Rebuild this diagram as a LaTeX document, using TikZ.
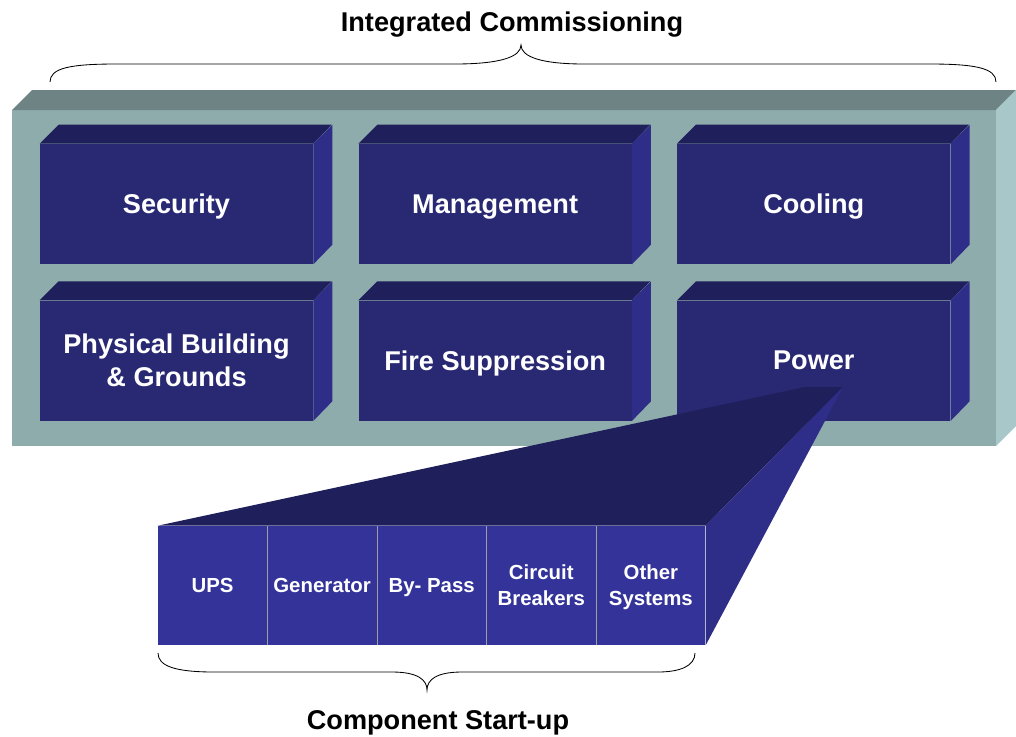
\documentclass[tikz,border=0pt]{standalone}
\usepackage{fontspec}
\setmainfont{Liberation Sans}
\usepackage{tikz}
\usetikzlibrary{positioning}
\definecolor{slabfront}{HTML}{8FACAC}
\definecolor{slabtop}{HTML}{6E8484}
\definecolor{slabside}{HTML}{A7C7C9}
\definecolor{boxfront}{HTML}{282873}
\definecolor{boxtop}{HTML}{1F1F5C}
\definecolor{boxside}{HTML}{2E2E88}
\definecolor{cellblue}{HTML}{333399}
\tikzstyle{bx}=[%
      rectangle, fill=boxfront, text=white, align=center, text depth=0pt,
      minimum width=6.825cm, minimum height=3cm, inner sep=0pt,
      font=\fontsize{19.3}{23.5}\selectfont\bfseries
]
\tikzstyle{cell}=[%
      rectangle, fill=cellblue, text=white, align=center, text depth=0pt,
      minimum width=2.725cm, minimum height=2.975cm, inner sep=0pt,
      font=\fontsize{14.5}{18.5}\selectfont\bfseries
]
\tikzstyle{ttl}=[%
      inner sep=0pt, font=\fontsize{19.3}{23.5}\selectfont\bfseries
]

\begin{document}
\begin{tikzpicture}[x=0.025cm, y=-0.025cm,
    node distance=1.125cm and 1.125cm,
    brace/.style={draw=black, line width=0.6pt},
    divider/.style={draw=gray!75, line width=0.5pt},
]
    \useasboundingbox (0,0) rectangle (1016,736);
    % slab
    \fill[slabfront] (12,110) rectangle (996,446);
    \fill[slabtop]  (12,110) -- (32,90) -- (1016,90) -- (996,110) -- cycle;
    \fill[slabside] (996,110) -- (1016,90) -- (1016,426) -- (996,446) -- cycle;
    % boxes
    \node[bx]  (sec) at (176.5,204)       {Security};
    \node[bx]  (mgt) [right = of sec]     {Management};
    \node[bx]  (col) [right = of mgt]     {Cooling};
    \node[bx]  (bld) [below = 0.9cm of sec] {Physical Building\\ \& Grounds};
    \node[bx]  (fir) [right = of bld]     {Fire Suppression};
    \node[bx]  (pwr) [right = of fir]     {Power};
    \foreach \n in {sec,mgt,col,bld,fir,pwr}{
      \fill[boxtop]  (\n.north west) -- ++(19,-19) -- ++(273,0) -- (\n.north east) -- cycle;
      \fill[boxside] (\n.north east) -- ++(19,-19) -- ++(0,120) -- (\n.south east) -- cycle;
    }
    % component strip
    \node[cell] (c1) at (212.5,585.5) {UPS};
    \node[cell] (c2) [right = 0pt of c1] {Generator};
    \node[cell] (c3) [right = 0pt of c2] {By- Pass};
    \node[cell] (c4) [right = 0pt of c3] {Circuit\\ Breakers};
    \node[cell] (c5) [right = 0pt of c4] {Other\\ Systems};
    \foreach \i in {1,...,4}
      \draw[divider] (c\i.north east) -- (c\i.south east);
    % zoom out of Power
    \coordinate (fa) at (805,387);
    \coordinate (fb) at (843,387);
    \fill[boxtop]  (c1.north west) -- (fa) -- (fb) -- (c5.north east) -- cycle;
    \fill[boxside] (fb) -- (c5.north east) -- (c5.south east) -- cycle;
    % braces
    \draw[brace] (50,82) .. controls (50,68) and (70,64) .. (117,64) -- (455,64)
          .. controls (500,64) and (521,57) .. (521,45)
          .. controls (521,57) and (542,64) .. (584,64) -- (929,64)
          .. controls (975,64) and (996,68) .. (996,82);
    \draw[brace] (158,653) .. controls (158,666) and (175,672) .. (214,672) -- (392,672)
          .. controls (418,672) and (427,680) .. (427,690)
          .. controls (427,680) and (436,672) .. (462,672) -- (658,672)
          .. controls (680,672) and (695,666) .. (695,653);
    \node[ttl] (ic) at (512,25)  {Integrated Commissioning};
    \node[ttl] (cs) at (438,723) {Component Start-up};
\end{tikzpicture}
\end{document}
